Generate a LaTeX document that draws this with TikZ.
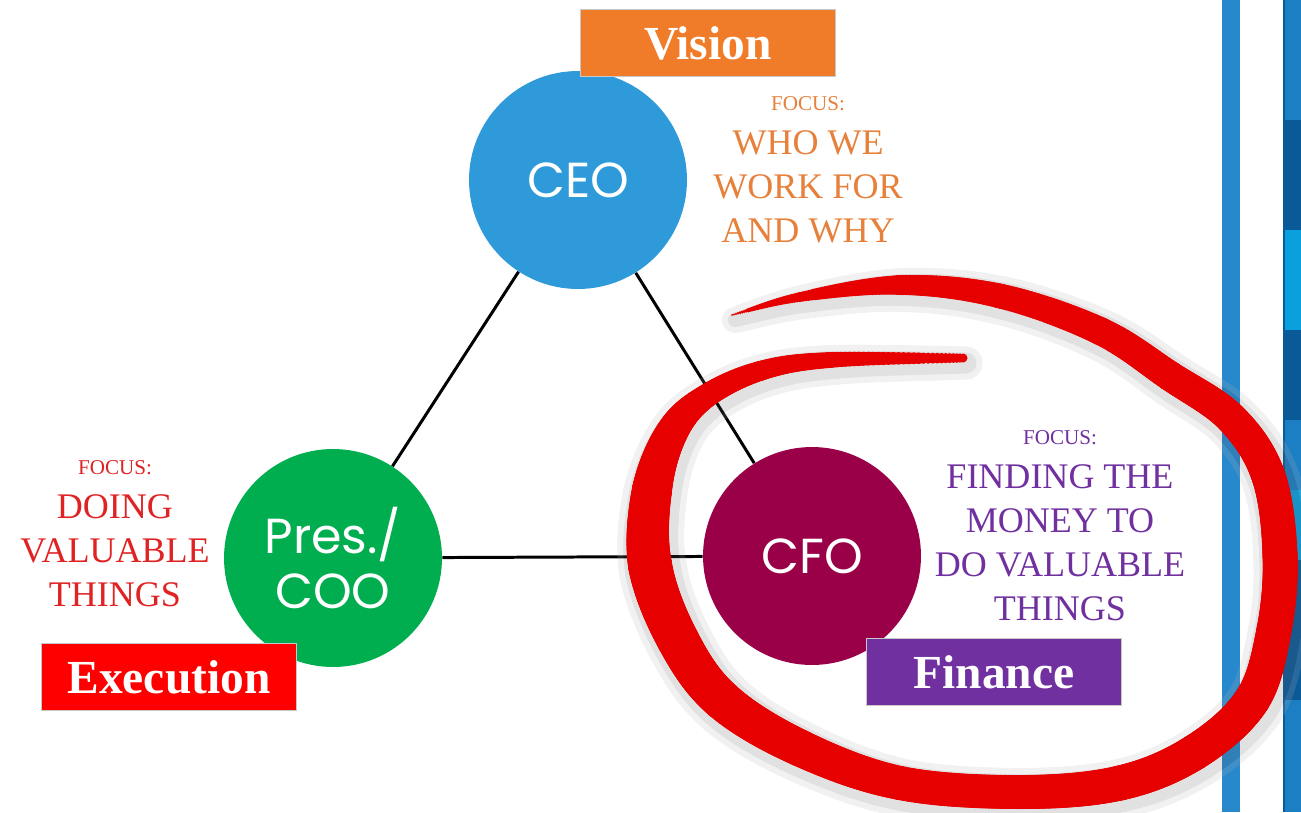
\documentclass[tikz,border=0pt]{standalone}
\usepackage{fontspec}
\setmainfont{Liberation Serif}
\newfontfamily\gothic{Poppins}
\usetikzlibrary{shapes}

\definecolor{ceoblue}{RGB}{46,154,217}
\definecolor{coogreen}{RGB}{0,174,79}
\definecolor{cfowine}{RGB}{153,0,72}
\definecolor{visionorange}{RGB}{240,123,41}
\definecolor{focusorange}{RGB}{230,128,58}
\definecolor{execred}{RGB}{255,0,0}
\definecolor{focusred}{RGB}{224,34,34}
\definecolor{financepurple}{RGB}{112,48,160}
\definecolor{tagrim}{RGB}{200,200,200}
\definecolor{scribred}{RGB}{230,0,0}
\definecolor{barblue}{RGB}{40,136,204}
\definecolor{stripmid}{RGB}{28,127,196}
\definecolor{stripdark}{RGB}{11,90,152}
\definecolor{stripcyan}{RGB}{10,160,222}

% red brush loop round the CFO: round dabs along a Catmull-Rom curve,
% each piece given as prev/from/to/next point and the width at from/to
% #1 = extra radius (px), #2 = fill
\newcommand{\brushloop}[2]{%
  \foreach \ax/\ay/\bx/\by/\cx/\cy/\dx/\dy/\wb/\wc in {
      680/330/732/315/800/297/900/285/2/10,
      732/315/800/297/900/285/1000/296/10/20,
      800/297/900/285/1000/296/1100/331/20/25,
      900/285/1000/296/1100/331/1170/376/25/28,
      1000/296/1100/331/1170/376/1231/418/28/30,
      1100/331/1170/376/1231/418/1268/475/30/32,
      1170/376/1231/418/1268/475/1280/555/32/34,
      1231/418/1268/475/1280/555/1274/630/34/35,
      1268/475/1280/555/1274/630/1252/700/35/35,
      1280/555/1274/630/1252/700/1195/752/35/36,
      1274/630/1252/700/1195/752/1120/783/36/36,
      1252/700/1195/752/1120/783/1020/792/36/35,
      1195/752/1120/783/1020/792/900/783/35/34,
      1120/783/1020/792/900/783/800/748/34/34,
      1020/792/900/783/800/748/722/700/34/37,
      900/783/800/748/722/700/678/640/37/40,
      800/748/722/700/678/640/650/565/40/42,
      722/700/678/640/650/565/652/490/42/44,
      678/640/650/565/652/490/672/432/44/40,
      650/565/652/490/672/432/705/397/40/32,
      652/490/672/432/705/397/760/371/32/24,
      672/432/705/397/760/371/830/360/24/20,
      705/397/760/371/830/360/963/358/20/16,
      760/371/830/360/963/358/1000/358/16/9} {
    \foreach \i in {0,...,30} {
      \pgfmathsetmacro\tpos{\i/30}
      \pgfmathsetmacro\dabx{0.5*(2*\bx+(\cx-\ax)*\tpos+(2*\ax-5*\bx+4*\cx-\dx)*\tpos*\tpos+(3*\bx-\ax-3*\cx+\dx)*\tpos*\tpos*\tpos)}
      \pgfmathsetmacro\daby{0.5*(2*\by+(\cy-\ay)*\tpos+(2*\ay-5*\by+4*\cy-\dy)*\tpos*\tpos+(3*\by-\ay-3*\cy+\dy)*\tpos*\tpos*\tpos)}
      \pgfmathsetmacro\dabr{((\wb+(\wc-\wb)*\tpos)/2+#1)*0.02}
      \fill[#2] (\dabx,\daby) circle (\dabr cm);
    }
  }}

\begin{document}
\begin{tikzpicture}[x=0.02cm, y=-0.02cm,
  role/.style={circle, minimum size=4.36cm, inner sep=0pt, text=white, align=center, font=\gothic\fontsize{28}{31}\selectfont},
  tag/.style={draw=tagrim, line width=0.8pt, minimum width=5.1cm, minimum height=1.34cm, inner sep=0pt, text=white, font=\bfseries\fontsize{27}{30}\selectfont},
  focus/.style={anchor=north, align=center, inner sep=0pt, font=\fontsize{20.5}{25}\selectfont},
  link/.style={line width=1.7pt, black}]
\useasboundingbox (0,0) rectangle (1301,812);
\fill[white] (0,0) rectangle (1301,812);

% slide edge on the right
\fill[barblue] (1222,0) rectangle (1240,812);
\foreach \ya/\yb/\c in {0/120/stripmid, 120/230/stripdark, 230/330/stripcyan, 330/420/stripdark, 420/490/stripmid, 490/560/stripcyan, 560/700/stripdark, 700/812/stripmid} {
    \fill[\c] (1284,\ya) rectangle (1301,\yb);
}
\draw[stripdark, line width=1pt] (1284,0) -- (1284,812);

% the three roles
\node[role, fill=ceoblue] (ceo) at (578,180) {CEO};
\node[role, fill=coogreen] (coo) at (333,558) {Pres./\\COO};
\node[role, fill=cfowine] (cfo) at (812,556) {CFO};
\draw[link] (ceo) -- (coo);
\draw[link] (ceo) -- (cfo);
\draw[link] (coo) -- (cfo);

% focus of each role
\node[focus, text=focusorange] (ceofocus) at (808,96) {{\fontsize{12}{14}\selectfont FOCUS:}\\WHO WE\\WORK FOR\\AND WHY};
\node[focus, text=focusred] (coofocus) at (115,460) {{\fontsize{12}{14}\selectfont FOCUS:}\\DOING\\VALUABLE\\THINGS};
\node[focus, text=financepurple] (cfofocus) at (1060,430) {{\fontsize{12}{14}\selectfont FOCUS:}\\FINDING THE\\MONEY TO\\DO VALUABLE\\THINGS};

% labels
\node[tag, fill=visionorange] (vision) at (708,43) {Vision};
\node[tag, fill=execred] (execution) at (169,677) {Execution};
\node[tag, fill=financepurple] (finance) at (994,672) {Finance};

% soft shadow, then the loop itself
\begin{scope}[transparency group, opacity=0.18, shift={(3,5)}]
\brushloop{12}{black!30}
\brushloop{6}{black!65}
\end{scope}
\brushloop{0}{scribred}
\end{tikzpicture}
\end{document}
